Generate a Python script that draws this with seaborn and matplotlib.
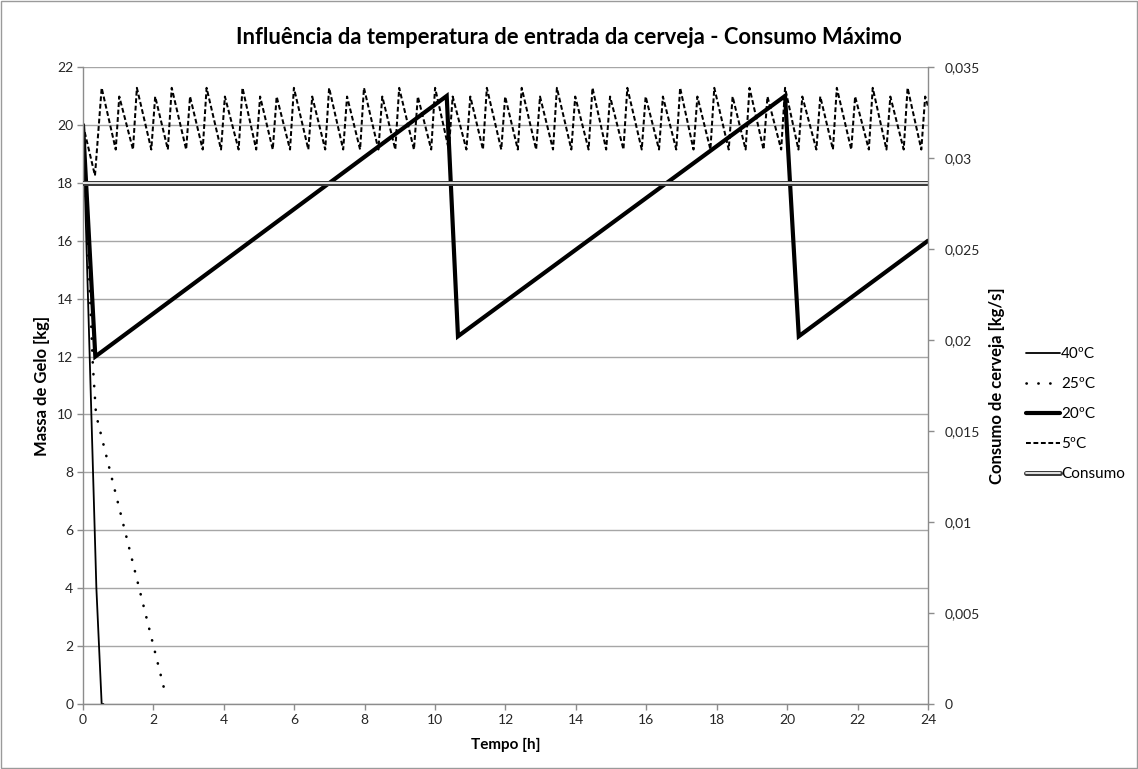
import matplotlib
matplotlib.use("Agg")
import matplotlib.pyplot as plt
import matplotlib.patheffects as pe
from matplotlib.ticker import FixedLocator, FuncFormatter
import seaborn as sns

# ---------------- data ----------------
t40 = [0.0, 0.38, 0.53, 0.58]
m40 = [20.0, 4.0, 0.0, 0.0]

t25 = [0.0, 0.28, 0.37, 2.34]
m25 = [20.0, 11.7, 10.0, 0.35]

t20 = [0.0, 0.35, 10.33, 10.65, 19.94, 20.33, 24.0]
m20 = [20.0, 12.0, 21.0, 12.7, 21.0, 12.7, 16.0]

# 5 ºC: start, first dip, then trough/peak pairs, end
t5_start = [0.0, 0.34]
m5_start = [20.0, 18.25]
peak_t5 = [0.53, 1.03, 1.53, 2.05, 2.52, 3.04, 3.51, 4.03, 4.53, 5.03, 5.50, 5.99,
           6.51, 6.99, 7.50, 7.98, 8.50, 8.98, 9.51, 10.00, 10.50, 11.00, 11.47, 11.99,
           12.46, 12.98, 13.46, 13.98, 14.47, 14.97, 15.46, 15.98, 16.47, 16.96, 17.45, 17.93,
           18.45, 18.93, 19.44, 19.94, 20.43, 20.94, 21.41, 21.93, 22.43, 22.93, 23.42, 23.92]
peak_m5 = [21.28, 20.98, 21.28, 20.98, 21.28, 20.98, 21.28, 20.98, 21.28, 20.98, 20.98, 21.28,
           20.98, 21.28, 20.98, 21.28, 20.98, 21.28, 20.98, 21.28, 20.98, 20.98, 21.28, 20.98,
           21.28, 20.98, 21.28, 20.98, 21.28, 20.98, 21.28, 20.98, 20.98, 21.28, 20.98, 21.28,
           20.98, 21.28, 20.98, 21.28, 20.98, 20.98, 21.28, 20.98, 21.28, 20.98, 21.28, 20.98]
trough_t5 = [0.93, 1.42, 1.94, 2.41, 2.93, 3.40, 3.92, 4.42, 4.92, 5.39, 5.88,
             6.40, 6.88, 7.39, 7.87, 8.39, 8.87, 9.40, 9.89, 10.39, 10.89, 11.36, 11.88,
             12.35, 12.87, 13.35, 13.87, 14.36, 14.86, 15.35, 15.87, 16.36, 16.85, 17.34, 17.82,
             18.34, 18.82, 19.33, 19.83, 20.32, 20.83, 21.30, 21.82, 22.32, 22.82, 23.31, 23.81]
trough_m5 = [19.15] * len(trough_t5)
t5_end = [24.0]
m5_end = [20.65]

consumo_t = [0.0, 24.0]
consumo = [0.0286, 0.0286]

labels = ["40ºC", "25ºC", "20ºC", "5ºC", "Consumo"]
title = "Influência da temperatura de entrada da cerveja - Consumo Máximo"
xlabel = "Tempo [h]"
ylabel_left = "Massa de Gelo [kg]"
ylabel_right = "Consumo de cerveja [kg/s]"
xticks = list(range(0, 25, 2))
yticks_left = list(range(0, 23, 2))
yticks_right = [0, 0.005, 0.01, 0.015, 0.02, 0.025, 0.03, 0.035]

# build 5ºC series (first peak, then trough/peak pairs)
t5 = t5_start + [peak_t5[0]]
m5 = m5_start + [peak_m5[0]]
for tt, mt, tp, mp in zip(trough_t5, trough_m5, peak_t5[1:], peak_m5[1:]):
    t5 += [tt, tp]
    m5 += [mt, mp]
t5 += t5_end
m5 += m5_end

# ---------------- style ----------------
sns.set_style("white")
plt.rcParams["font.family"] = ["Lato", "DejaVu Sans"]
plt.rcParams["text.color"] = "black"
plt.rcParams["axes.labelcolor"] = "black"

W, H = 1138, 769
fig = plt.figure(figsize=(W / 100, H / 100), dpi=100)
L, R, B, T = 83, 928, 704, 67
ax = fig.add_axes([L / W, 1 - B / H, (R - L) / W, (B - T) / H])
ax2 = ax.twinx()

# ---------------- lines ----------------
sns.lineplot(x=t40, y=m40, ax=ax, color="black", lw=1.3, estimator=None, sort=False, label=labels[0])
sns.lineplot(x=t25, y=m25, ax=ax, color="black", lw=1.9, estimator=None, sort=False, label=labels[1])
l25 = ax.lines[-1]
l25.set_dashes((0.1, 4.4))
l25.set_dash_capstyle("round")
sns.lineplot(x=t20, y=m20, ax=ax, color="black", lw=3.0, estimator=None, sort=False, label=labels[2])
ax.lines[-1].set_solid_joinstyle("miter")
sns.lineplot(x=t5, y=m5, ax=ax, color="black", lw=1.45, estimator=None, sort=False, label=labels[3])
l5 = ax.lines[-1]
l5.set_dashes((2.4, 1.3))

sns.lineplot(x=consumo_t, y=consumo, ax=ax2, color="white", lw=1.2, estimator=None, sort=False,
             label=labels[4])
lc = ax2.lines[-1]
lc.set_path_effects([pe.Stroke(linewidth=3.6, foreground="#3c3c3c"), pe.Normal()])

for a in (ax, ax2):
    lg = a.get_legend()
    if lg is not None:
        lg.remove()

# ---------------- axes ----------------
ax.set_xlim(0, 24)
ax.set_ylim(0, 22)
ax2.set_ylim(0, 0.035)
ax.xaxis.set_major_locator(FixedLocator(xticks))
ax.yaxis.set_major_locator(FixedLocator(yticks_left))
ax2.yaxis.set_major_locator(FixedLocator(yticks_right))
ax2.yaxis.set_major_formatter(FuncFormatter(
    lambda v, p: ("%.3f" % v).rstrip("0").rstrip(".").replace(".", ",") if v != 0 else "0"))

ax.yaxis.grid(True, color="#a6a6a6", lw=1.0)
ax.xaxis.grid(False)
ax.set_axisbelow(True)

gray = "#8c8c8c"
for s in ("top", "right"):
    ax.spines[s].set_visible(False)
for s in ("top", "left", "bottom"):
    ax2.spines[s].set_visible(False)
for s in ("left", "bottom"):
    ax.spines[s].set_color(gray)
    ax.spines[s].set_linewidth(1.0)
ax2.spines["right"].set_color(gray)
ax2.spines["right"].set_linewidth(1.0)

ax.tick_params(axis="both", which="major", direction="out", length=4, width=1, color=gray,
               labelsize=10, pad=3, left=True, bottom=True)
ax2.tick_params(axis="y", which="major", direction="out", length=4, width=1, color=gray,
                labelsize=10, pad=8, right=True)

ax.set_xlabel(xlabel, fontsize=11, fontweight="bold")
ax.set_ylabel(ylabel_left, fontsize=12, fontweight="bold")
ax2.set_ylabel(ylabel_right, fontsize=12, fontweight="bold")
ax.xaxis.set_label_coords(0.5, (B - 738) / (B - T))
ax.yaxis.set_label_coords((50 - L) / (R - L), 0.5)
ax2.yaxis.set_label_coords((989 - L) / (R - L), 0.5)

fig.text(0.5, 1 - 38 / H, title, ha="center", va="center", fontsize=15.8, fontweight="bold")

# ---------------- legend ----------------
handles = ax.lines[:4] + [lc]
fig.legend(handles, labels, loc="center left", bbox_to_anchor=(1026 / W, 1 - 414 / H),
           frameon=False, fontsize=11, handlelength=2.2, handletextpad=0.1,
           labelspacing=1.05, borderaxespad=0, borderpad=0)

# chart border
fig.patches.append(plt.Rectangle((0.0005, 0.001), 0.999, 0.998, transform=fig.transFigure,
                                 fill=False, edgecolor="#9a9a9a", lw=1))

fig.savefig("out.png", dpi=100)
